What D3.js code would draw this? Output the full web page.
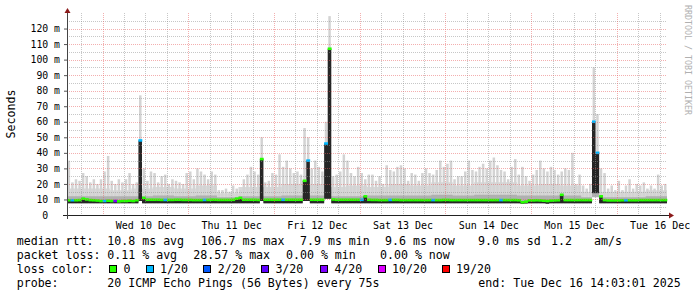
<!DOCTYPE html>
<html>
<head>
<meta charset="utf-8">
<script src="https://cdn.jsdelivr.net/npm/d3@7/dist/d3.min.js"></script>
<style>
  body { margin: 0; background: #fff; }
  svg text { font-family: "DejaVu Sans Mono", monospace; fill: #000; white-space: pre; }
</style>
</head>
<body>
<svg id="chart" width="697" height="297"></svg>
<script>
// one sample per hour over 7 days ending Tue Dec 16 14:03:01 2025
const endTime = new Date(2025, 11, 16, 14, 3, 1)
const hours = 168

// max ping per hour (ms)
const maxPing = [
  35,21,23,22,27,25,21,23,20,23,28,38,22,20,23,21,23,27,20,21,77,30,22,28,
  27,21,25,26,20,23,22,21,20,27,28,23,30,28,26,23,28,26,16,16,17,15,19,17,
  16,23,26,31,28,26,50,21,22,27,26,39,31,35,30,27,28,26,56,50,30,35,31,28,
  60,128,25,26,28,39,35,27,25,31,27,23,26,26,22,25,20,32,29,28,31,32,30,22,
  27,26,22,27,30,27,26,29,35,31,33,35,23,25,25,28,35,29,28,31,33,30,35,37,
  32,29,28,23,31,36,26,31,25,22,26,29,35,30,28,31,29,26,28,30,29,40,20,26,
  19,17,20,95,65,30,27,17,19,16,22,16,19,23,17,20,19,21,17,19,17,26,19,20
]
// min ping per hour (ms)
const minPing = [
  7.5,7.5,7.5,7.5,7.5,7.5,7.5,7.5,7.5,7.5,7.5,7.5,7.5,7.5,7.5,7.5,7.5,7.5,7.5,7.5,9,7.5,7.5,7.5,
  7.5,7.5,7.5,7.5,7.5,7.5,7.5,7.5,7.5,7.5,7.5,7.5,7.5,7.5,7.5,7.5,7.5,7.5,7.5,7.5,7.5,7.5,7.5,7.5,
  7.5,7.5,7.5,7.5,7.5,7.5,9,7.5,7.5,7.5,7.5,7.5,7.5,7.5,7.5,7.5,7.5,7.5,9,9,7.5,7.5,7.5,7.5,
  10.5,10.5,7.5,7.5,7.5,7.5,7.5,7.5,7.5,7.5,7.5,7.5,7.5,7.5,7.5,7.5,7.5,7.5,7.5,7.5,7.5,7.5,7.5,7.5,
  7.5,7.5,7.5,7.5,7.5,7.5,7.5,7.5,7.5,7.5,7.5,7.5,7.5,7.5,7.5,7.5,7.5,7.5,7.5,7.5,7.5,7.5,7.5,7.5,
  7.5,7.5,7.5,7.5,7.5,7.5,7.5,7.2,7.4,7.5,7.5,7.5,7.5,7.5,7.3,7.5,7.5,7.5,7.5,7.5,7.5,7.5,7.5,7.5,
  7.5,7.5,7.5,14,14,7.5,7.5,7.5,7.5,7.5,7.5,7.5,7.5,7.5,7.5,7.5,7.5,7.5,7.5,7.5,7.5,7.5,7.5,7.5
]
// median rtt per hour (ms)
const medianRtt = [
  9.5,9.5,9.5,9.6,10.5,10,9.6,9.5,9.3,9,9,9.2,9,9,8.8,9,9,9.2,9,9.5,48,11,9.8,9.8,
  9.8,9.8,9.7,9.7,9.7,9.7,9.8,9.8,9.7,9.7,9.7,9.6,9.6,9.6,9.7,9.7,9.8,9.8,9.7,9.7,9.7,9.7,9.8,10.5,
  11,9.8,9.8,9.8,9.8,9.7,36,9.8,9.8,9.8,9.8,9.8,9.8,9.8,9.8,9.8,9.8,9.8,22,35,9.8,9.8,9.8,9.8,
  46,107,10,9.8,9.8,9.8,9.8,9.8,9.8,9.8,9.8,12,9.8,9.7,9.7,9.6,9.6,9.6,9.7,9.7,9.7,9.6,9.6,9.6,
  9.6,9.6,9.6,9.6,9.6,9.6,9.6,9.6,9.6,9.7,9.7,9.6,9.6,9.6,9.6,9.6,9.6,9.6,9.6,9.6,9.6,9.6,9.6,9.6,
  9.6,9.6,9.6,9.6,9.6,9.6,9.5,8.2,8.6,9.4,9.4,9.5,9.4,9.2,9,9.3,9.4,9.5,13,9.6,9.6,9.6,9.6,9.6,
  9.6,9.6,9.6,60,40,12,9.6,9.4,9.4,9.4,9.4,9.5,9.5,9.5,9.5,9.5,9.6,9.6,9.6,9.6,9.6,9.6,9.6,9.6
]
// lost pings out of 20, per hour
const lostPings = [
  0,1,0,0,0,0,0,0,0,0,1,0,0,6,0,0,0,0,0,0,1,0,0,0,
  0,0,0,1,0,0,0,0,0,0,0,0,0,0,1,0,0,0,0,0,0,0,0,0,
  0,0,0,0,0,0,0,0,0,0,0,0,1,0,0,0,0,0,0,1,0,0,0,0,
  1,0,0,0,0,0,0,0,0,0,1,0,0,0,0,0,0,0,1,0,0,0,0,0,
  0,0,0,0,0,0,1,0,0,0,0,0,0,0,0,0,0,0,0,0,0,0,0,0,
  0,1,0,0,0,0,0,0,0,0,0,0,0,0,0,0,0,0,0,0,0,0,0,0,
  0,0,0,1,1,0,0,0,0,0,0,0,1,0,0,0,0,0,0,0,0,0,0,0
]
// dense part of the smoke, one value per 6 hours (ms)
const smokeTop = [17,17,16,17,18,17,19,14,18,18,20,20,18,19,18,20,19,21,19,21,21,19,20,19,15,15,15,16]
const smokeMid = [12,12,12,12,12.5,12,12.5,11.5,12,12,12.5,12.5,12,12,12.5,12.5,12.5,13,12.5,13,13,12.5,12.5,12.5,11.5,11.5,11.5,12]

const lossThresholds = [0, 1, 2, 3, 4, 10, 19]
const lossLabels = ["0", "1/20", "2/20", "3/20", "4/20", "10/20", "19/20"]
const lossColors = ["#26ff00", "#00b8ff", "#0059ff", "#5e00ff", "#7e00ff", "#dd00ff", "#ff0000"]

const yTicks = [0, 10, 20, 30, 40, 50, 60, 70, 80, 90, 100, 110, 120]
const yTickLabels = ["0  ", "10 m", "20 m", "30 m", "40 m", "50 m", "60 m", "70 m", "80 m", "90 m", "100 m", "110 m", "120 m"]
const xTickDays = [10, 11, 12, 13, 14, 15, 16]
const xTickLabels = ["Wed 10 Dec", "Thu 11 Dec", "Fri 12 Dec", "Sat 13 Dec", "Sun 14 Dec", "Mon 15 Dec", "Tue 16 Dec"]

const svg = d3.select("#chart")
const startTime = d3.timeHour.offset(endTime, -hours)
const tAt = i => d3.timeHour.offset(startTime, i)

const x = d3.scaleTime().domain([startTime, endTime]).range([67, 667])
const y = d3.scaleLinear().domain([0, 130]).range([215, 13])

const plot = svg.append("g")
const idx = d3.range(hours + 1)          // last point closes the final step
const val = (arr, i) => arr[Math.min(i, hours - 1)]
const six = (arr, i) => arr[Math.floor(Math.min(i, hours - 1) / 6)]

function stepArea(lo, hi){
  return d3.area()
           .curve(d3.curveStepAfter)
           .x(i => x(tAt(i)))
           .y0(i => y(lo(i)))
           .y1(i => y(hi(i)))
}

// light smoke body
plot.append("path")
    .datum(idx)
    .attr("fill", "#d9d9d9")
    .attr("d", stepArea(i => val(minPing, i), i => six(smokeTop, i)))

// single max-ping spikes
plot.selectAll(".spike")
    .data(d3.range(hours))
    .join("rect")
    .attr("class", "spike")
    .attr("x", i => x(tAt(i)) + 0.6)
    .attr("width", 2.5)
    .attr("y", i => y(maxPing[i]))
    .attr("height", i => y(minPing[i]) - y(maxPing[i]))
    .attr("fill", "#d3d3d3")

// denser smoke near the median
plot.append("path")
    .datum(idx)
    .attr("fill", "#b0b0b0")
    .attr("d", stepArea(i => val(minPing, i), i => six(smokeMid, i)))

plot.append("path")
    .datum(idx)
    .attr("fill", "#262626")
    .attr("d", stepArea(i => val(minPing, i), i => val(medianRtt, i)))

// median, coloured by packet loss
function lossColor(n){
  let c = lossColors[0]
  lossThresholds.forEach((t, k) => { if(n >= t) c = lossColors[k] })
  return c
}

plot.selectAll(".median")
    .data(d3.range(hours))
    .join("rect")
    .attr("class", "median")
    .attr("x", i => x(tAt(i)))
    .attr("width", i => x(tAt(i + 1)) - x(tAt(i)) + 0.3)
    .attr("y", i => y(medianRtt[i]) - 1.3)
    .attr("height", 2.6)
    .attr("fill", i => lossColor(lostPings[i]))

// grid on top, like rrdtool
const grid = svg.append("g").attr("shape-rendering", "crispEdges")
const minorY = d3.range(5, 130, 10)
const minorX = d3.timeHour.every(6).range(startTime, endTime).filter(d => d.getHours() != 0)
const majorX = d3.timeDay.every(1).range(startTime, endTime)

grid.selectAll(".gy").data(minorY).join("line")
    .attr("x1", 67).attr("x2", 667).attr("y1", d => Math.round(y(d)) + 0.5).attr("y2", d => Math.round(y(d)) + 0.5)
    .attr("stroke", "rgba(143,143,143,0.5)").attr("stroke-dasharray", "1,1")
grid.selectAll(".gx").data(minorX).join("line")
    .attr("y1", 13).attr("y2", 215).attr("x1", d => Math.round(x(d)) + 0.5).attr("x2", d => Math.round(x(d)) + 0.5)
    .attr("stroke", "rgba(143,143,143,0.5)").attr("stroke-dasharray", "1,1")
grid.selectAll(".my").data(yTicks.slice(1)).join("line")
    .attr("x1", 67).attr("x2", 667).attr("y1", d => Math.round(y(d)) + 0.5).attr("y2", d => Math.round(y(d)) + 0.5)
    .attr("stroke", "rgba(231,95,95,0.5)").attr("stroke-dasharray", "1,1")
grid.selectAll(".mx").data(majorX).join("line")
    .attr("y1", 13).attr("y2", 215).attr("x1", d => Math.round(x(d)) + 0.5).attr("x2", d => Math.round(x(d)) + 0.5)
    .attr("stroke", "rgba(231,95,95,0.5)").attr("stroke-dasharray", "1,1")

// axes
const yAxis = svg.append("g")
                 .attr("transform", "translate(67,0)")
                 .call(d3.axisLeft(y).tickValues(yTicks).tickFormat((d, i) => yTickLabels[i]).tickSize(3).tickPadding(4))
yAxis.select(".domain").remove()
yAxis.selectAll("line").attr("stroke", "#555")
yAxis.selectAll("text").attr("font-size", "9.8px").attr("font-family", "DejaVu Sans Mono")

const xAxis = svg.append("g")
                 .attr("transform", "translate(0,215)")
                 .call(d3.axisBottom(x).tickValues(xTickDays.map(d => new Date(2025, 11, d, 12))).tickFormat((d, i) => xTickLabels[i]).tickSize(0).tickPadding(6.4))
xAxis.select(".domain").remove()
xAxis.selectAll("text").attr("font-size", "10px").attr("font-family", "DejaVu Sans Mono")

svg.append("line").attr("x1", 63).attr("x2", 669).attr("y1", 215.5).attr("y2", 215.5)
   .attr("stroke", "#222").attr("shape-rendering", "crispEdges")
svg.append("line").attr("x1", 67.5).attr("x2", 67.5).attr("y1", 219).attr("y2", 12)
   .attr("stroke", "#444").attr("shape-rendering", "crispEdges")
svg.append("path").attr("d", "M64.5,13L70.5,13L67.5,8Z").attr("fill", "#8b1a1a")
svg.append("path").attr("d", "M669,212.5L669,218.5L674,215.5Z").attr("fill", "#8b1a1a")

svg.append("text")
   .attr("transform", "translate(14.5,114) rotate(-90)")
   .attr("text-anchor", "middle")
   .attr("font-size", "11.6px")
   .text("Seconds")

svg.append("text")
   .attr("transform", "translate(684.5,5) rotate(90)")
   .attr("font-size", "8.3px")
   .style("fill", "#b0b0b0")
   .text("RRDTOOL / TOBI OETIKER")

// legend
const legend = svg.append("g").attr("font-size", "11.6px")
const rows = [
  [245.3, [["median rtt:", 16.7], ["10.8 ms avg", 107.3], ["106.7 ms max", 200.7], ["7.9 ms min", 300],
           ["9.6 ms now", 385], ["9.0 ms sd", 478], ["1.2", 551], ["am/s", 594]]],
  [259.3, [["packet loss:", 16.7], ["0.11 % avg", 107.3], ["28.57 % max", 193.3], ["0.00 % min", 286], ["0.00 % now", 380]]],
  [273.3, [["loss color:", 16.7]]],
  [287.3, [["probe:", 16.7], ["20 ICMP Echo Pings (56 Bytes) every 75s", 107.3], ["end: Tue Dec 16 14:03:01 2025", 478.3]]]
]
rows.forEach(([by, items]) => {
  items.forEach(([t, lx]) => legend.append("text").attr("x", lx).attr("y", by).text(t))
})

const boxX = [109, 145.7, 203.3, 261, 320, 377.7, 441.7]
legend.selectAll(".box").data(lossLabels).join("rect")
      .attr("x", (d, i) => boxX[i] + 0.5).attr("y", 265.5)
      .attr("width", 7).attr("height", 7)
      .attr("fill", (d, i) => lossColors[i]).attr("stroke", "#000")
      .attr("shape-rendering", "crispEdges")
legend.selectAll(".lbl").data(lossLabels).join("text")
      .attr("x", (d, i) => boxX[i] + 14.4).attr("y", 273.3)
      .text(d => d)
</script>
</body>
</html>
